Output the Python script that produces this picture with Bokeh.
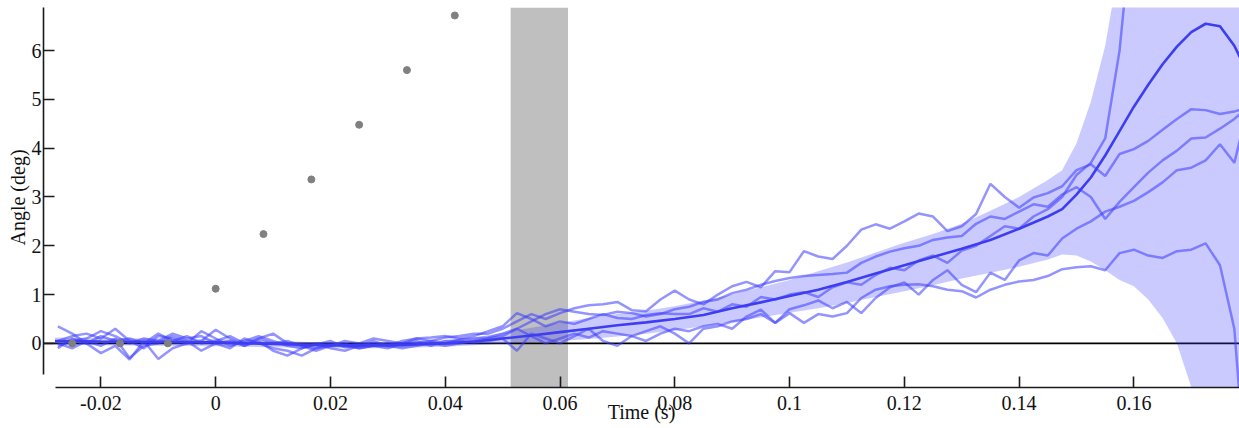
import numpy as np
from bokeh.plotting import figure
from bokeh.models import (Range1d, FixedTicker, CustomJSTickFormatter, BoxAnnotation,
                          Span, ColumnDataSource)
from bokeh.embed import file_html
from bokeh.resources import INLINE

# ---------------- data ----------------
# sample times of the individual traces (s)
trace_t0 = -0.0275
trace_dt = 0.0025
n_samples = 84

trace_1 = [0.05, 0.15, 0.2, 0.1, 0.3, 0.05, -0.1, 0.15, 0.1, 0.0, 0.25, 0.1, -0.05, 0.05, 0.15,
           0.05, -0.05, -0.1, -0.02, 0.05, -0.08, -0.05, 0.0, -0.05, 0.05, 0.1, 0.05, 0.12, 0.15, 0.2,
           0.2, 0.3, 0.45, 0.6, 0.5, 0.62, 0.72, 0.78, 0.8, 0.85, 0.68, 0.66, 0.9, 1.08, 0.9,
           0.8, 1.0, 1.17, 1.26, 1.15, 1.48, 1.46, 1.89, 1.78, 1.73, 2.0, 2.33, 2.44, 2.35, 2.5,
           2.66, 2.6, 2.3, 2.4, 2.65, 3.27, 3.0, 2.78, 2.99, 3.08, 3.22, 3.55, 3.67, 3.43, 3.88,
           3.98, 4.15, 4.38, 4.6, 4.8, 4.78, 4.7, 4.75, 4.85]
trace_2 = [-0.1, 0.1, 0.0, 0.15, 0.05, 0.1, 0.0, 0.2, 0.05, 0.15, 0.0, 0.05, 0.15, 0.0, 0.1,
           0.2, 0.0, -0.05, -0.1, 0.0, -0.05, -0.1, -0.05, 0.0, -0.05, 0.0, 0.05, 0.0, 0.08, 0.1,
           0.12, 0.2, 0.3, 0.45, 0.6, 0.7, 0.65, 0.6, 0.58, 0.65, 0.62, 0.55, 0.6, 0.7, 0.75,
           0.85, 0.9, 1.03, 1.1, 1.2, 1.28, 1.34, 1.38, 1.4, 1.42, 1.45, 1.65, 1.78, 1.88, 1.95,
           2.0, 2.12, 2.17, 2.2, 2.45, 2.6, 2.55, 2.7, 2.85, 2.8, 3.05, 3.2, 3.0, 2.55, 2.9,
           3.2, 3.5, 3.75, 3.95, 4.2, 4.22, 4.4, 4.6, 4.85]
trace_3 = [0.0, -0.1, 0.05, -0.05, 0.1, -0.3, -0.05, 0.0, 0.15, 0.05, -0.15, 0.0, -0.1, 0.1, 0.0,
           -0.1, -0.15, -0.25, -0.1, -0.05, 0.0, -0.1, -0.05, -0.1, 0.0, 0.05, -0.05, 0.05, 0.05, 0.02,
           0.05, 0.1, -0.15, 0.2, 0.1, 0.0, 0.15, 0.3, 0.05, -0.05, 0.15, 0.25, 0.35, 0.2, 0.0,
           0.3, 0.35, 0.45, 0.5, 0.6, 0.42, 0.7, 0.78, 0.88, 0.72, 0.85, 0.62, 0.93, 1.15, 1.25,
           1.0, 1.3, 1.5, 1.2, 1.05, 1.45, 1.3, 1.7, 1.85, 1.8, 2.15, 2.35, 2.5, 2.7, 2.8,
           2.92, 3.1, 3.3, 3.55, 3.6, 3.75, 4.08, 3.7, 4.9]
trace_4 = [0.35, 0.2, 0.0, -0.2, -0.05, -0.33, 0.05, -0.32, -0.1, 0.0, 0.05, 0.28, 0.1, -0.05, 0.05,
           -0.15, -0.25, -0.1, 0.0, -0.1, -0.15, -0.05, 0.05, -0.05, -0.1, -0.05, 0.0, -0.05, 0.0, 0.05,
           0.1, 0.15, 0.3, 0.15, 0.0, 0.1, 0.2, 0.12, 0.25, 0.2, 0.15, 0.05, 0.2, 0.3, 0.25,
           0.35, 0.4, 0.3, 0.55, 0.69, 0.42, 0.62, 0.42, 0.6, 0.55, 0.62, 0.93, 1.1, 1.17, 1.2,
           1.21, 1.17, 1.1, 1.07, 0.94, 1.1, 1.2, 1.27, 1.3, 1.38, 1.52, 1.56, 1.58, 1.5, 1.85,
           1.92, 1.8, 1.75, 1.89, 1.92, 2.05, 1.6, 0.3, -3.5]
trace_5 = [-0.05, 0.05, 0.1, 0.25, 0.15, 0.0, 0.1, 0.05, 0.2, 0.1, 0.15, 0.0, 0.05, -0.05, 0.1,
           0.0, 0.05, -0.05, -0.15, -0.05, 0.05, 0.0, 0.1, 0.05, 0.0, 0.1, 0.12, 0.15, 0.1, 0.15,
           0.25, 0.35, 0.62, 0.5, 0.35, 0.45, 0.4, 0.5, 0.6, 0.52, 0.5, 0.58, 0.62, 0.6, 0.6,
           0.72, 0.65, 0.8, 0.75, 0.95, 0.9, 1.0, 1.05, 0.95, 1.15, 1.25, 1.2, 1.4, 1.55, 1.5,
           1.7, 1.8, 1.65, 1.9, 2.0, 2.2, 2.4, 2.35, 2.6, 2.75, 3.0, 3.45, 3.7, 4.2, 6.0,
           9.0, 12.0, 15.0, 18.0, 21.0, 24.0, 27.0, 30.0, 33.0]
traces = [trace_1, trace_2, trace_3, trace_4, trace_5]

# fitted mean curve
fit_t = [-0.028, -0.02, -0.01, 0.0, 0.01, 0.02, 0.03, 0.035, 0.04, 0.045, 0.05, 0.055, 0.06,
         0.065, 0.07, 0.075, 0.08, 0.085, 0.09, 0.095, 0.1, 0.105, 0.11, 0.115, 0.12, 0.125,
         0.13, 0.135, 0.14, 0.145, 0.1475, 0.15, 0.1525, 0.155, 0.1575, 0.16, 0.1625, 0.165,
         0.1675, 0.17, 0.1725, 0.175, 0.1775, 0.18]
fit_v = [0.05, 0.04, 0.03, 0.02, -0.01, -0.04, -0.04, -0.02, 0.0, 0.04, 0.1, 0.16, 0.23,
         0.3, 0.37, 0.43, 0.5, 0.58, 0.72, 0.84, 0.97, 1.1, 1.26, 1.43, 1.6, 1.77,
         1.94, 2.12, 2.35, 2.6, 2.75, 3.05, 3.4, 3.85, 4.35, 4.85, 5.3, 5.72,
         6.08, 6.38, 6.55, 6.5, 6.1, 5.5]

# confidence band around the fit
band_t = [-0.028, -0.02, -0.01, 0.0, 0.01, 0.02, 0.03, 0.04, 0.045, 0.05, 0.055, 0.06, 0.065,
          0.07, 0.075, 0.08, 0.085, 0.09, 0.095, 0.1, 0.105, 0.11, 0.115, 0.12, 0.125, 0.13,
          0.135, 0.14, 0.145, 0.1475, 0.15, 0.1525, 0.155, 0.1575, 0.16, 0.1625, 0.165, 0.1675,
          0.17, 0.1725, 0.175, 0.18]
band_lo = [-0.03, -0.04, -0.05, -0.06, -0.08, -0.1, -0.1, -0.07, -0.04, -0.01, 0.02, 0.05, 0.09,
           0.14, 0.2, 0.27, 0.35, 0.44, 0.53, 0.63, 0.72, 0.83, 0.95, 1.07, 1.19, 1.33,
           1.45, 1.57, 1.72, 1.82, 1.8, 1.68, 1.5, 1.3, 1.17, 0.9, 0.52, 0.0,
           -0.9, -2.0, -3.5, -5.0]
band_hi = [0.12, 0.11, 0.10, 0.09, 0.05, 0.02, 0.02, 0.07, 0.12, 0.22, 0.32, 0.42, 0.52,
           0.6, 0.67, 0.76, 0.88, 1.0, 1.15, 1.3, 1.48, 1.66, 1.86, 2.06, 2.24, 2.45,
           2.72, 3.0, 3.35, 3.55, 4.1, 4.95, 6.1, 7.8, 10.0, 12.0, 14.0, 16.0,
           18.0, 20.0, 22.0, 25.0]

# stimulus (target) positions
stim_t = [-0.025, -0.01667, -0.00833, 0.0, 0.00833, 0.01667, 0.025, 0.03333, 0.04167]
stim_v = [0.0, 0.0, 0.0, 1.12, 2.24, 3.36, 4.48, 5.6, 6.72]

# shaded interval
window_start = 0.0514
window_end = 0.0614

# axis ticks
x_ticks = [-0.02, 0.0, 0.02, 0.04, 0.06, 0.08, 0.1, 0.12, 0.14, 0.16]
x_labels = ["-0.02", "0", "0.02", "0.04", "0.06", "0.08", "0.1", "0.12", "0.14", "0.16"]
y_ticks = [0, 1, 2, 3, 4, 5, 6]

# ---------------- figure ----------------
FONT = "Liberation Serif"
p = figure(width=1239, height=425,
           x_range=Range1d(-0.0300, 0.1784), y_range=Range1d(-0.904, 6.883),
           output_backend="svg", toolbar_location=None,
           min_border_left=43, min_border_right=0, min_border_top=7, min_border_bottom=0)
p.grid.visible = False
p.outline_line_color = None
p.background_fill_color = "white"
p.border_fill_color = "white"

xa = p.xaxis[0]
ya = p.yaxis[0]
xa.ticker = FixedTicker(ticks=x_ticks)
xa.formatter = CustomJSTickFormatter(args=dict(tvals=x_ticks, tlabels=x_labels), code="""
    let best = 0;
    for (let i = 0; i < tvals.length; i++) {
        if (Math.abs(tvals[i] - tick) < Math.abs(tvals[best] - tick)) { best = i; }
    }
    return Math.abs(tvals[best] - tick) < 1e-9 ? tlabels[best] : String(tick);
""")
ya.ticker = FixedTicker(ticks=y_ticks)
for ax in (xa, ya):
    ax.major_tick_in = 11
    ax.major_tick_out = 0
    ax.minor_tick_in = 0
    ax.minor_tick_out = 0
    ax.axis_line_width = 1.6
    ax.axis_line_color = "#1a1a1a"
    ax.major_tick_line_width = 1.6
    ax.major_tick_line_color = "#1a1a1a"
    ax.major_label_text_font = FONT
    ax.major_label_text_font_size = "20px"
    ax.major_label_text_color = "#111111"
    ax.axis_label_text_font = FONT
    ax.axis_label_text_font_size = "20px"
    ax.axis_label_text_font_style = "normal"
    ax.axis_label_text_color = "#111111"
xa.bounds = (-0.0279, 0.1784)
ya.bounds = (-0.63, 6.883)
xa.axis_label = "Time (s)"
xa.major_label_standoff = 8
xa.axis_label_standoff = -12
ya.axis_label = "Angle (deg)"
ya.major_label_standoff = 2
ya.axis_label_standoff = 0

# shaded stimulus window and zero line
p.add_layout(BoxAnnotation(left=window_start, right=window_end, fill_color="#bfbfbf",
                           fill_alpha=1.0, line_color=None, level="underlay"))
p.add_layout(Span(location=0, dimension="width", line_color="black", line_width=1.6,
                  level="underlay"))

# band
p.varea(x=band_t, y1=band_lo, y2=band_hi, fill_color="#3c3cff", fill_alpha=0.27)

# individual traces
t = np.round(trace_t0 + trace_dt * np.arange(n_samples), 4)
for tr in traces:
    src = ColumnDataSource(dict(t=t, v=tr))
    p.line("t", "v", source=src, line_color="#3c3cff", line_alpha=0.55, line_width=2.5)

# fitted curve
p.line(fit_t, fit_v, line_color="#3d3df2", line_width=2.6)

# stimulus dots
p.scatter(stim_t, stim_v, size=7, fill_color="#808080", line_color="#808080")

open("out.html", "w").write(file_html(p, INLINE))
